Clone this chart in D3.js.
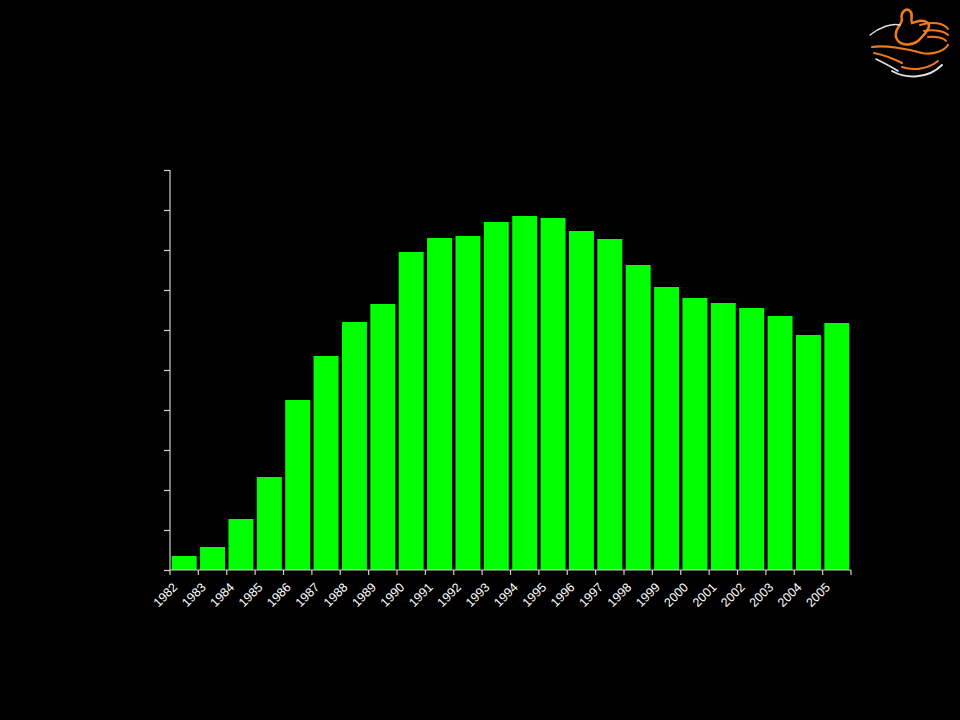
<!DOCTYPE html>
<html>
<head>
<meta charset="utf-8">
<script src="https://cdn.jsdelivr.net/npm/d3@7"></script>
<style>
html,body{margin:0;padding:0;background:#000;}
svg{display:block;}
</style>
</head>
<body>
<script>
const years = ["1982","1983","1984","1985","1986","1987","1988","1989","1990","1991","1992","1993","1994","1995","1996","1997","1998","1999","2000","2001","2002","2003","2004","2005"];
const values = [3.5,5.75,12.75,23.25,42.5,53.5,62,66.5,79.5,83,83.5,87,88.5,88,84.75,82.75,76.25,70.75,68,66.75,65.5,63.5,58.75,61.75];
const yTicks = [0,10,20,30,40,50,60,70,80,90,100];

const W = 960, H = 720;
const svg = d3.select("body").append("svg").attr("width", W).attr("height", H)
  .style("background", "#000");

const mLeft = 170, mRight = 851, mTop = 170, mBottom = 570;
const x = d3.scaleBand().domain(years).range([mLeft, mRight]).paddingInner(0.12).paddingOuter(0.06);
const xb = d3.scaleBand().domain(years).range([mLeft, mRight]);
const y = d3.scaleLinear().domain([0, 100]).range([mBottom, mTop]);

svg.append("g").selectAll("rect").data(values).join("rect")
  .attr("x", (d, i) => x(years[i]))
  .attr("y", d => y(d))
  .attr("width", x.bandwidth())
  .attr("height", d => y(0) - y(d))
  .attr("fill", "#00ff00");

// y axis
const yAxis = svg.append("g").attr("transform", `translate(${mLeft},0)`)
  .call(d3.axisLeft(y).tickValues(yTicks).tickSize(6).tickFormat(""));
yAxis.selectAll("path,line").attr("stroke", "#d0d0d0").attr("stroke-width", 1.2);
yAxis.select(".domain").attr("d", `M0,${mTop}V${mBottom}`);

// x axis with boundary ticks
const xg = svg.append("g").attr("transform", `translate(0,${mBottom})`);
xg.append("line").attr("x1", mLeft).attr("x2", mRight).attr("y1", 0).attr("y2", 0)
  .attr("stroke", "#d0d0d0").attr("stroke-width", 1.2);
const bounds = years.map(d => xb(d)).concat([mRight]);
xg.selectAll("line.t").data(bounds).join("line").attr("class", "t")
  .attr("x1", d => d).attr("x2", d => d).attr("y1", 0).attr("y2", 5)
  .attr("stroke", "#d0d0d0").attr("stroke-width", 1.2);
xg.selectAll("text").data(years).join("text")
  .attr("transform", d => `translate(${xb(d) + xb.bandwidth() / 2 - 6},${18}) rotate(-45)`)
  .attr("text-anchor", "end")
  .attr("fill", "#ffffff")
  .attr("font-family", "Liberation Sans, Arial, sans-serif")
  .attr("font-size", 12.5)
  .text(d => d);

// logo (approximation)
const logo = svg.append("g").attr("transform", "translate(862,5)").attr("fill", "none").attr("stroke-linecap", "round");
logo.append("path").attr("d", "M40,14 C38,8 44,2 48,6 C52,10 48,14 50,18 C56,16 62,14 66,18 C70,22 62,30 56,36 C48,42 36,40 34,32 C32,24 40,20 40,14 Z")
  .attr("stroke", "#f07a1a").attr("stroke-width", 2.5);
logo.append("path").attr("d", "M8,30 C18,22 30,18 38,20").attr("stroke", "#e0e0e0").attr("stroke-width", 1.5);
logo.append("path").attr("d", "M58,20 C70,16 82,18 86,24").attr("stroke", "#f07a1a").attr("stroke-width", 2);
logo.append("path").attr("d", "M62,26 C72,24 82,26 86,30").attr("stroke", "#f07a1a").attr("stroke-width", 2);
logo.append("path").attr("d", "M66,32 C74,31 82,33 84,36").attr("stroke", "#f07a1a").attr("stroke-width", 2);
logo.append("path").attr("d", "M10,42 C24,40 46,44 60,48 C72,50 82,46 86,40").attr("stroke", "#f07a1a").attr("stroke-width", 2.2);
logo.append("path").attr("d", "M12,48 C22,50 32,54 40,58").attr("stroke", "#f07a1a").attr("stroke-width", 2);
logo.append("path").attr("d", "M14,54 C22,58 30,62 36,66").attr("stroke", "#e0e0e0").attr("stroke-width", 1.6);
logo.append("path").attr("d", "M30,66 C44,74 66,74 80,60").attr("stroke", "#e0e0e0").attr("stroke-width", 2);
logo.append("path").attr("d", "M40,62 C52,66 66,64 76,56").attr("stroke", "#f07a1a").attr("stroke-width", 2);
</script>
</body>
</html>
